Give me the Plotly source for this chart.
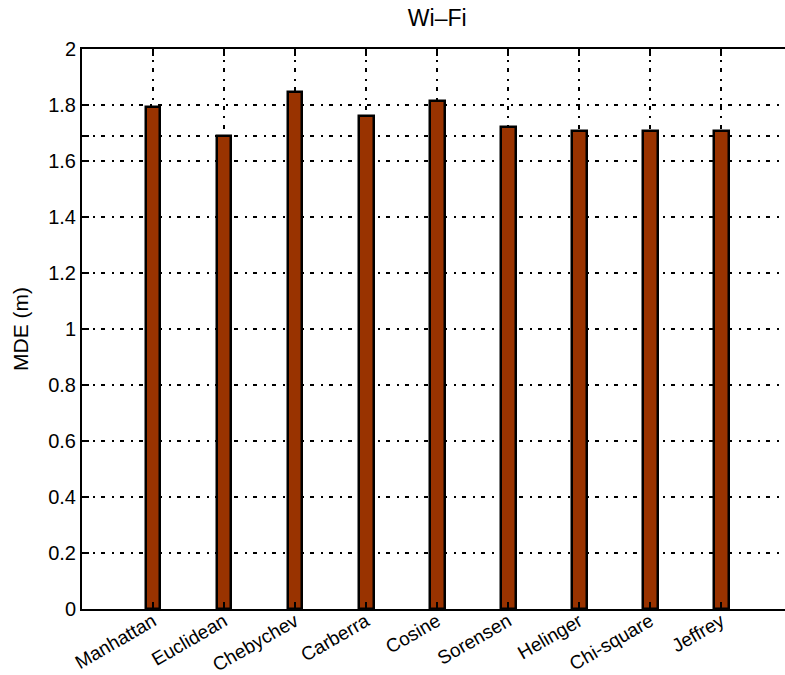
import plotly.graph_objects as go

# Mean distance error per similarity metric (Wi-Fi fingerprinting)
metrics = ["Manhattan", "Euclidean", "Chebychev", "Carberra", "Cosine",
           "Sorensen", "Helinger", "Chi-square", "Jeffrey"]
mde = [1.793, 1.690, 1.846, 1.760, 1.815, 1.723, 1.707, 1.707, 1.707]
y_ticks = [0, 0.2, 0.4, 0.6, 0.8, 1.0, 1.2, 1.4, 1.6, 1.8, 2.0]

positions = list(range(1, len(metrics) + 1))

# extra unlabelled reference tick at the lowest error
ytickvals = y_ticks + [min(mde)]
yticktext = [("%g" % v) for v in y_ticks] + [""]

font_family = "Liberation Sans, Arial, Helvetica, sans-serif"
grid_dash = "4px,6.5px,2px,6.5px"

fig = go.Figure()
fig.add_trace(go.Bar(
    x=positions,
    y=mde,
    width=0.21,
    marker=dict(color="#993300", line=dict(color="black", width=2.5)),
    showlegend=False,
))

fig.update_layout(
    width=785,
    height=675,
    margin=dict(l=82, r=0, t=49, b=66),
    paper_bgcolor="white",
    plot_bgcolor="white",
    font=dict(family=font_family, size=19, color="black"),
    title=dict(text="Wi\u2013Fi", xref="container", x=0.557, xanchor="center",
               y=0.973, yanchor="middle",
               font=dict(family=font_family, size=23), automargin=False),
    bargap=0,
)

fig.update_xaxes(
    range=[0, 9.9],
    automargin=False,
    tickmode="array",
    tickvals=positions,
    ticktext=metrics,
    tickangle=-30,
    ticklabelstandoff=-8,
    ticks="inside",
    ticklen=7,
    tickwidth=2,
    tickcolor="black",
    showline=True,
    linecolor="black",
    linewidth=2,
    mirror="ticks",
    showgrid=True,
    gridcolor="black",
    gridwidth=1.5,
    griddash=grid_dash,
    zeroline=False,
    tickfont=dict(size=19),
)

fig.update_yaxes(
    range=[0, 2],
    automargin=False,
    tickmode="array",
    tickvals=ytickvals,
    ticktext=yticktext,
    ticks="inside",
    ticklen=7,
    tickwidth=2,
    tickcolor="black",
    showline=True,
    linecolor="black",
    linewidth=2,
    showgrid=True,
    gridcolor="black",
    gridwidth=1.5,
    griddash=grid_dash,
    zeroline=False,
    tickfont=dict(size=20),
    title=dict(text="MDE (m)", font=dict(size=21), standoff=14),
)

fig.write_html("out.html")
